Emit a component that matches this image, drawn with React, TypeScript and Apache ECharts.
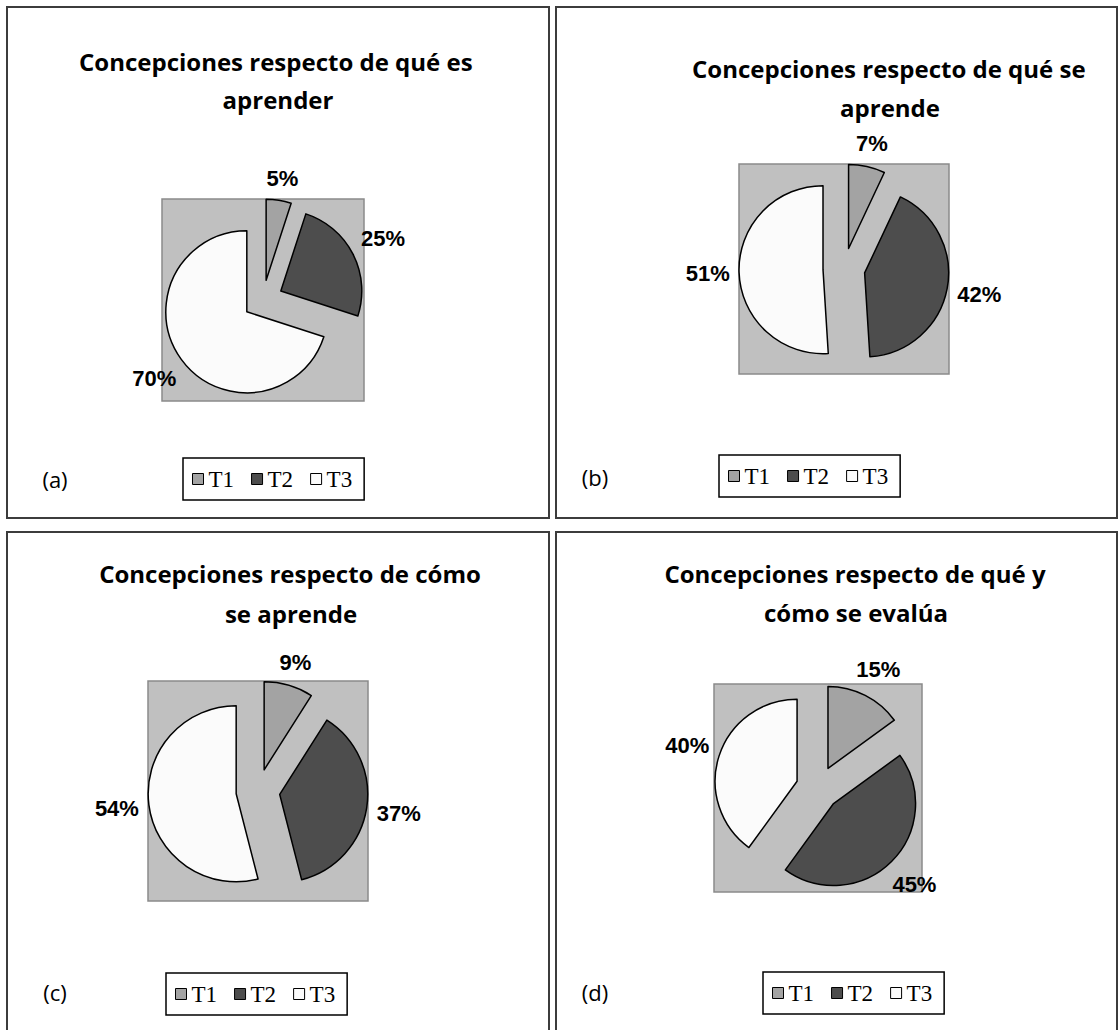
import React, { useEffect, useRef } from "react";
import * as echarts from "echarts";

// ---- data ----
const categories = ["T1", "T2", "T3"];
const valuesA = [5, 25, 70];
const valuesB = [7, 42, 51];
const valuesC = [9, 37, 54];
const valuesD = [15, 45, 40];
const panelTags = ["(a)", "(b)", "(c)", "(d)"];
const titleLine1 = [
  "Concepciones respecto de qué es",
  "Concepciones respecto de qué se",
  "Concepciones respecto de cómo",
  "Concepciones respecto de qué y",
];
const titleLine2 = ["aprender", "aprende", "se aprende", "cómo se evalúa"];
const sliceColors = ["#a3a3a3", "#4d4d4d", "#fbfbfb"];

// ---- layout (positions only) ----
const panels = [
  { values: valuesA, box: [7, 7, 549, 518], cx: 263, cy: 300, r: 81, d: 20, tag: [55, 479], legend: [183, 458], t1: { x: 79, y: 61, align: "left" }, t2: { x: 278, y: 99 } },
  { values: valuesB, box: [556, 7, 1117, 518], cx: 844, cy: 269, r: 84, d: 21, tag: [595, 477], legend: [719, 455], t1: { x: 692, y: 68, align: "left" }, t2: { x: 890, y: 107 } },
  { values: valuesC, box: [7, 532, 549, 1040], cx: 258, cy: 791, r: 88, d: 22, tag: [55, 992], legend: [166, 973], t1: { x: 290, y: 573, align: "center" }, t2: { x: 291, y: 613 } },
  { values: valuesD, box: [556, 532, 1117, 1040], cx: 818, cy: 788, r: 82, d: 22, tag: [595, 992], legend: [763, 972], t1: { x: 855, y: 573, align: "center" }, t2: { x: 856, y: 612 } },
];

const TITLE_FONT = "bold 24px 'Open Sans', 'Noto Sans', sans-serif";
const LABEL_GAP = 9;

function buildOption() {
  const pieSeries: any[] = [];
  const labelSeries: any[] = [];
  const graphics: any[] = [];
  const legends: any[] = [];

  panels.forEach((p, k) => {
    pieSeries.push({
      type: "pie",
      name: "pie" + k,
      center: [p.cx, p.cy],
      radius: p.r,
      startAngle: 90,
      clockwise: true,
      selectedMode: "multiple",
      selectedOffset: p.d,
      label: { show: false },
      labelLine: { show: false },
      emphasis: { disabled: true },
      z: 3,
      data: categories.map((c, i) => ({
        name: c,
        value: p.values[i],
        selected: true,
        itemStyle: { color: sliceColors[i], borderColor: "#000", borderWidth: 1.5 },
      })),
    });
    const outer = p.r + p.d + LABEL_GAP;
    labelSeries.push({
      type: "pie",
      name: "labels" + k,
      center: [p.cx, p.cy],
      radius: [outer + 10, outer + 12],
      startAngle: 90,
      clockwise: true,
      silent: true,
      legendHoverLink: false,
      itemStyle: { color: "transparent", borderWidth: 0 },
      label: {
        show: true,
        position: "inside",
        formatter: "{c}%",
        color: "#000",
        fontFamily: "'Liberation Sans', Arial, sans-serif",
        fontWeight: "bold",
        fontSize: 22,
      },
      labelLine: { show: false },
      labelLayout: (params: any) => {
        const lr = params.labelRect;
        const mx = lr.x + lr.width / 2;
        const my = lr.y + lr.height / 2;
        let ux = mx - p.cx;
        let uy = my - p.cy;
        const len = Math.hypot(ux, uy) || 1;
        ux /= len;
        uy /= len;
        const ext = (Math.abs(ux) * lr.width) / 2 + (Math.abs(uy) * lr.height) / 2;
        const dist = outer + ext;
        return { x: p.cx + ux * dist, y: p.cy + uy * dist, align: "center", verticalAlign: "middle" };
      },
      emphasis: { disabled: true },
      z: 4,
      data: categories.map((c, i) => ({ name: c, value: p.values[i] })),
    });

    const [x0, y0, x1, y1] = p.box;
    graphics.push({
      type: "rect",
      z: 0,
      shape: { x: x0, y: y0, width: x1 - x0, height: y1 - y0 },
      style: { fill: "#fff", stroke: "#3c3c3c", lineWidth: 2 },
    });
    const h = p.r + p.d;
    graphics.push({
      type: "rect",
      z: 1,
      shape: { x: p.cx - h, y: p.cy - h, width: 2 * h, height: 2 * h },
      style: { fill: "#c0c0c0", stroke: "#8a8a8a", lineWidth: 1.5 },
    });
    graphics.push({
      type: "text",
      z: 10,
      x: p.t1.x,
      y: p.t1.y,
      style: { text: titleLine1[k], font: TITLE_FONT, fill: "#000", align: p.t1.align, verticalAlign: "middle" },
    });
    graphics.push({
      type: "text",
      z: 10,
      x: p.t2.x,
      y: p.t2.y,
      style: { text: titleLine2[k], font: TITLE_FONT, fill: "#000", align: "center", verticalAlign: "middle" },
    });
    graphics.push({
      type: "text",
      z: 10,
      x: p.tag[0],
      y: p.tag[1],
      style: { text: panelTags[k], font: "22px 'Open Sans', 'Noto Sans', sans-serif", fill: "#000", align: "center", verticalAlign: "middle" },
    });

    legends.push({
      left: p.legend[0],
      top: p.legend[1],
      orient: "horizontal",
      data: categories,
      icon: "rect",
      itemWidth: 11,
      itemHeight: 11,
      itemGap: 17,
      selectedMode: false,
      borderColor: "#000",
      borderWidth: 1.5,
      backgroundColor: "#fff",
      padding: [9, 12, 9, 9],
      itemStyle: { borderColor: "#000", borderWidth: 1 },
      textStyle: { fontFamily: "'Liberation Serif', 'Times New Roman', serif", fontSize: 23, color: "#000", lineHeight: 24 },
      z: 6,
    });
  });

  return {
    animation: false,
    backgroundColor: "#fff",
    legend: legends,
    graphic: { elements: graphics },
    series: [...pieSeries, ...labelSeries],
  };
}

export default function App() {
  const ref = useRef<HTMLDivElement>(null);
  useEffect(() => {
    document.body.style.margin = "0";
    if (!ref.current) return;
    const chart = echarts.init(ref.current, undefined, { renderer: "svg" });
    chart.setOption(buildOption() as any);
    return () => chart.dispose();
  }, []);
  return <div ref={ref} style={{ width: 1119, height: 1030 }} />;
}
